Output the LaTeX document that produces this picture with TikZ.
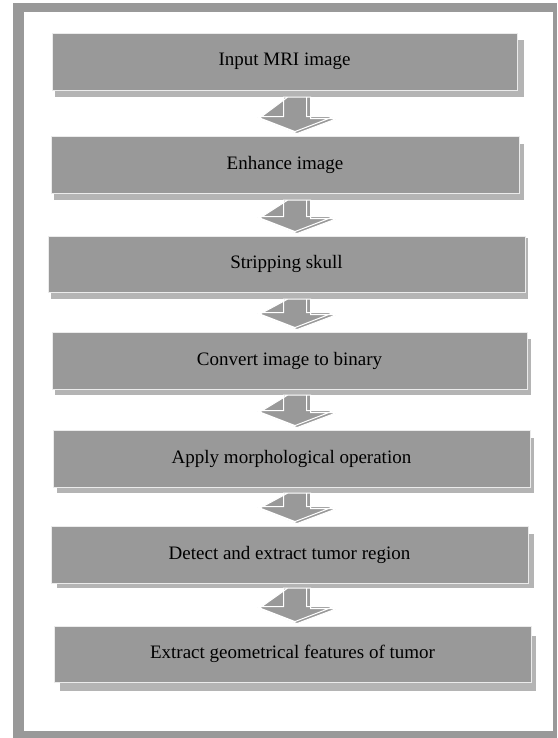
\documentclass[tikz,border=0pt]{standalone}
\usepackage{fontspec}
\setmainfont{Liberation Serif}
\usetikzlibrary{calc}
\definecolor{frameg}{HTML}{999999}
\definecolor{boxg}{HTML}{999999}
\definecolor{shadg}{HTML}{B4B4B4}
\tikzset{
  stepbox/.style={fill=boxg, draw=white!92!black, line width=0.9pt, inner sep=0pt,
    font=\fontsize{19}{23}\selectfont, text=black},
  shadowbox/.style={fill=shadg, draw=none, inner sep=0pt},
  arrbody/.style={fill=boxg, draw=white, line width=1pt, line join=miter},
  arrshad/.style={fill=shadg, draw=none},
}
\newcommand\placebox[6]{% name, l, t, r, b, text
  \node[stepbox, minimum width={(#4-#2)*1pt}, minimum height={(#5-#3)*1pt}]
    (#1) at ({(#2+#4)/2}, {(#3+#5)/2}) {#6};}
\newcommand\placeshadow[5]{%
  \node[shadowbox, minimum width={(#4-#2)*1pt}, minimum height={(#5-#3)*1pt}]
    (#1) at ({(#2+#4)/2}, {(#3+#5)/2}) {};}
\begin{document}
\begin{tikzpicture}[x=1pt, y=-1pt]
\useasboundingbox (0,0) rectangle (557,738);
\fill[white] (0,0) rectangle (557,738);
\fill[frameg] (13,3) rectangle (557,738);
\fill[white] (24,12) rectangle (553,731);
% shadows
\placeshadow{s1}{55}{40}{524}{97}
\placeshadow{s2}{54}{144}{524}{200}
\placeshadow{s3}{51}{238}{528}{299}
\placeshadow{s4}{55}{339}{531}{395}
\placeshadow{s5}{57}{438}{534}{493}
\placeshadow{s6}{57}{534}{534}{588}
\placeshadow{s7}{60}{636}{536}{691}
% boxes
\placebox{b1}{52}{33}{517}{90}{Input MRI image}
\placebox{b2}{51}{136}{519}{193}{Enhance image}
\placebox{b3}{48}{236}{525}{292}{Stripping skull}
\placebox{b4}{52}{332}{527}{389}{Convert image to binary}
\placebox{b5}{53}{430}{530}{487}{Apply morphological operation}
\placebox{b6}{51}{526}{528}{583}{Detect and extract tumor region}
\placebox{b7}{54}{626}{531}{682}{Extract geometrical features of tumor}
% block arrows
\foreach \sa/\sb in {s1/b2, s2/b3, s3/b4, s4/b5, s5/b6, s6/b7} {
  \path let \p1=(\sa.south), \p2=(\sb.north) in
    [arrshad] (283.5pt+4pt,\y1) -- (306.5pt+4pt,\y1) -- (306.5pt+4pt,\y2+17pt)
      -- (334pt+3pt,\y2+17pt) -- (295pt+2pt,\y2+2pt) -- (256pt+3pt,\y2+17pt) -- cycle
    [arrbody] (283.5pt,\y1) -- (306.5pt,\y1) -- (306.5pt,\y2+19pt)
      -- (334pt,\y2+19pt) -- (295pt,\y2+4pt) -- (256pt,\y2+19pt)
      -- (283.5pt,\y2+19pt) -- cycle;
}
\end{tikzpicture}
\end{document}
